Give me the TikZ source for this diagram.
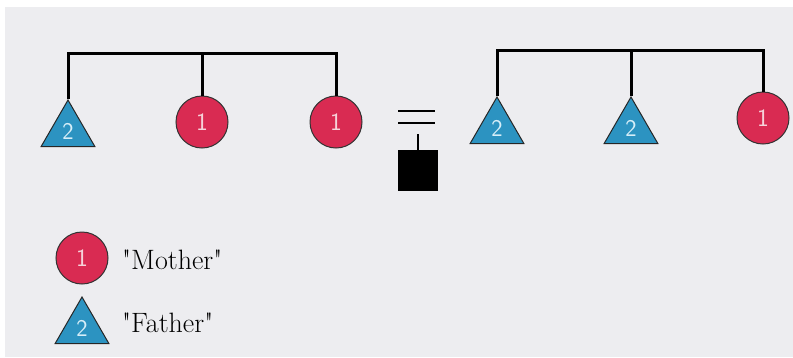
\documentclass[tikz,border=0pt]{standalone}
\usepackage{fontspec}
\usetikzlibrary{shapes.geometric}
\definecolor{bg}{HTML}{EDEDF0}
\definecolor{mred}{HTML}{D92B52}
\definecolor{fblue}{HTML}{2C93C1}
\definecolor{mnum}{HTML}{F6D3DA}
\definecolor{fnum}{HTML}{D6EEF8}
\tikzset{
  mother/.style={circle, draw=black!80, line width=1pt, fill=mred, minimum size=52pt, inner sep=0pt,
    text=mnum, font=\fontsize{25}{25}\selectfont\sffamily},
  father/.style={regular polygon, regular polygon sides=3, draw=black!85, line width=1pt, fill=fblue,
    minimum size=62pt, inner sep=0pt, anchor=corner 1, text=fnum, font=\fontsize{24}{24}\selectfont\sffamily},
  kin/.style={line width=3pt, black},
  label/.style={anchor=base west, font=\fontsize{28}{28}\selectfont, inner sep=0pt}
}
\begin{document}
\begin{tikzpicture}[x=1pt,y=-1pt]
\useasboundingbox (0,0) rectangle (793,357);
\fill[white] (0,0) rectangle (793,357);
\fill[bg] (5,7) rectangle (793,357);
% left sibling group
\node[father] (t1) at (68,99) {2};
\node[mother] (c1) at (202,122) {1};
\node[mother] (c2) at (336,122) {1};
\draw[kin] (t1.corner 1) |- (c2.north |- 0,53) -- (c2.north);
\draw[kin] (c1.north) -- (c1.north |- 0,53);
% ego
\coordinate (e1) at (398,111);
\coordinate (e2) at (435,111);
\coordinate (e3) at (398,123);
\coordinate (e4) at (435,123);
\draw[line width=2pt] (e1) -- (e2);
\draw[line width=2pt] (e3) -- (e4);
\node[fill=black, minimum width=40pt, minimum height=41pt, inner sep=0pt] (ego) at (418,170.5) {};
\coordinate (stub) at (418,134);
\draw[line width=2pt] (ego.north) -- (stub);
% right sibling group
\node[father] (t2) at (497,96) {2};
\node[father] (t3) at (631,96) {2};
\node[mother] (c3) at (763,118) {1};
\draw[kin] (t2.corner 1) |- (c3.north |- 0,50) -- (c3.north);
\draw[kin] (t3.corner 1) -- (t3.corner 1 |- 0,50);
% legend
\node[mother] (lm) at (82,258) {1};
\node[label] (lmt) at (122,269) {\textquotedbl Mother\textquotedbl};
\node[father] (lf) at (82,296) {2};
\node[label] (lft) at (122,332) {\textquotedbl Father\textquotedbl};
\end{tikzpicture}
\end{document}
